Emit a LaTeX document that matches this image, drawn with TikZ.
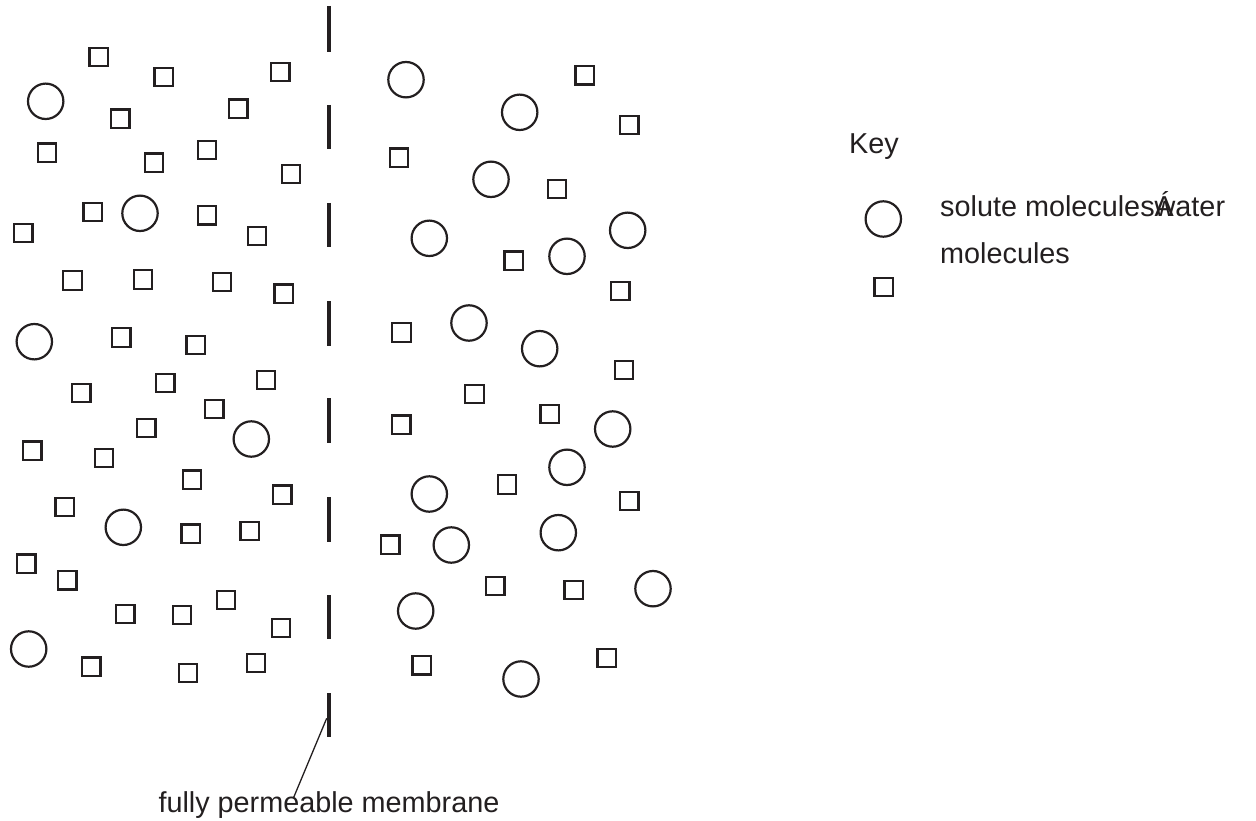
\documentclass[tikz,border=0pt]{standalone}
\usepackage{fontspec}
\setmainfont{Liberation Sans}
\definecolor{ink}{RGB}{35,31,32}
\begin{document}
\begin{tikzpicture}[x=1pt,y=-1pt,
  sq/.style={draw=ink,line width=2.2pt,rectangle,minimum size=18.5pt,inner sep=0pt},
  circ/.style={draw=ink,line width=2.2pt,circle,minimum size=35.4pt,inner sep=0pt},
  seg/.style={draw=ink,line width=3.5pt},
  lbl/.style={anchor=base west,inner sep=0pt,text=ink,font=\fontsize{28.8}{34}\selectfont},
  leader/.style={draw=ink,line width=1.3pt}]
\useasboundingbox (0,0) rectangle (1256,821);
% membrane
\foreach \a/\b [count=\i] in {6/52,105/149,203/247,301/346,398/443,497/542,595/639,693/737}
  \draw[seg] (329,\a) coordinate (m\i top) -- (329,\b) coordinate (m\i bot);
% left side water molecules
\foreach \x/\y [count=\i] in {98.7/57,163.8/77,280.3/72,120.2/118.8,238.3/108.7,47/152.7,154/162.7,207/150,291/174,
  92.7/212,207/215.3,257/236,23.2/233,72.5/280.5,143/279.5,222/282,283.7/293.7,121.3/337.5,195.7/345,
  165.3/383,266/380,81.3/393,214.3/409,146.3/428,32.2/450.7,104/458,192/479.7,282.3/494.7,64.8/507,
  190.7/533.7,249.7/531,26.3/563.7,67.3/580.2,125.3/614,182/615,226/600,281/628,91.3/666.7,188/673,256/663}
  \node[sq] (lw\i) at (\x,\y) {};
% left side solute molecules
\foreach \x/\y [count=\i] in {45.7/101.3,140/213.3,34.3/341.7,251.3/439,123.3/527.3,28.7/649}
  \node[circ] (ls\i) at (\x,\y) {};
% right side water molecules
\foreach \x/\y [count=\i] in {584.7/75.3,629.3/125,399/157.8,557/189,513.7/260.8,620.3/291,401.5/332.5,624/370,
  474.5/394,549.8/414,401.3/424.8,507/484.5,629.3/501,390.3/544.8,495.3/586,573.7/590,421.7/665.3,606.7/658}
  \node[sq] (rw\i) at (\x,\y) {};
% right side solute molecules
\foreach \x/\y [count=\i] in {406/79.7,519.7/112.3,491/179.3,429.3/238.3,567/256.3,627.7/230.3,469/323,539.7/348.7,
  612.7/429,567/467.3,429.3/494,558.3/532.7,451.3/545,653/588.7,415.7/611,521/679}
  \node[circ] (rs\i) at (\x,\y) {};
% key
\node[lbl] (key) at (849,153.3) {Key};
\node[circ] (keycirc) at (883.3,219) {};
\node[sq] (keysq) at (883.7,287) {};
\node[lbl] (keyt1) at (940,216.7) {solute molecules\rlap{Á}water};
\node[lbl] (keyt2) at (940,263.3) {molecules};
% membrane label
\node[lbl] (memlabel) at (158.3,812) {fully permeable membrane};
\coordinate (leadA) at (326.7,718.3);
\coordinate (leadB) at (293.3,798.3);
\draw[leader] (leadA) -- (leadB);
\end{tikzpicture}
\end{document}
